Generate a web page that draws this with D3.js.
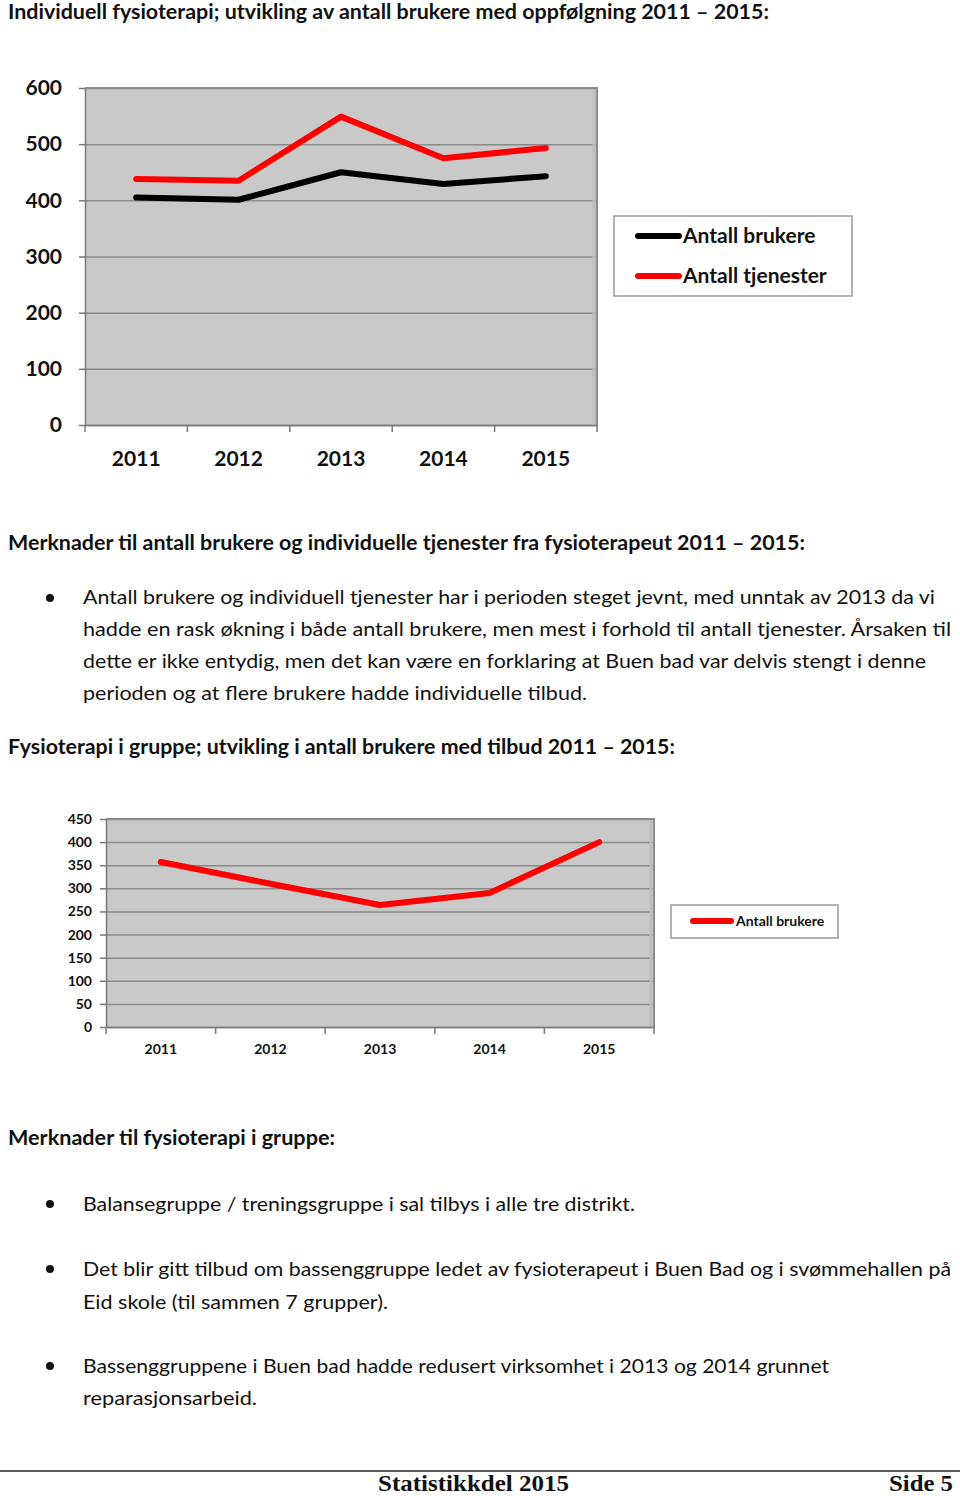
<!DOCTYPE html>
<html>
<head>
<meta charset="utf-8">
<script src="https://cdn.jsdelivr.net/npm/d3@7"></script>
<style>
	html, body { margin:0; padding:0; background:#fff; }
	svg text { font-family: Lato, "Open Sans", sans-serif; fill:#111; }
	.bold { font-weight:bold; }
	.serif { font-family: "Liberation Serif", serif; }
</style>
</head>
<body>
<svg id="page" width="960" height="1496"></svg>
<script>
// data
var years = ["2011", "2012", "2013", "2014", "2015"];
var brukere = [405, 401, 450, 429, 443];
var tjenester = [438, 435, 549, 475, 493];
var gruppeBrukere = [357, 310, 264, 290, 400];
var ticks1 = [0, 100, 200, 300, 400, 500, 600];
var ticks2 = [0, 50, 100, 150, 200, 250, 300, 350, 400, 450];
var legend1 = ["Antall brukere", "Antall tjenester"];
var legend2 = ["Antall brukere"];

// page texts: [text, x, baseline y, width, class]
var texts = [
	["Individuell fysioterapi; utvikling av antall brukere med oppfølgning 2011 – 2015:", 8, 19, 761, "bold"],
	["Merknader til antall brukere og individuelle tjenester fra fysioterapeut 2011 – 2015:", 8, 550, 797, "bold"],
	["Antall brukere og individuell tjenester har i perioden steget jevnt, med unntak av 2013 da vi", 83, 604, 852, ""],
	["hadde en rask økning i både antall brukere,  men mest i forhold til antall tjenester. Årsaken til", 83, 636, 868, ""],
	["dette er ikke entydig, men det kan være en forklaring at Buen bad var delvis stengt i denne", 83, 668, 843, ""],
	["perioden og at flere brukere hadde individuelle tilbud.", 83, 700, 504, ""],
	["Fysioterapi i gruppe; utvikling i antall brukere med tilbud 2011 – 2015:", 8, 754, 667, "bold"],
	["Merknader til fysioterapi i gruppe:", 8, 1145, 327, "bold"],
	["Balansegruppe / treningsgruppe i sal tilbys i alle tre distrikt.", 83, 1211, 552, ""],
	["Det blir gitt tilbud om bassenggruppe ledet av fysioterapeut i Buen Bad og i svømmehallen på", 83, 1276, 868, ""],
	["Eid skole (til sammen 7 grupper).", 83, 1309, 305, ""],
	["Bassenggruppene i Buen bad hadde redusert virksomhet i 2013 og 2014 grunnet", 83, 1373, 746, ""],
	["reparasjonsarbeid.", 83, 1405, 174, ""]
];
var bullets = [598, 1204, 1269, 1366];

var svg = d3.select("#page");

svg.selectAll("text.para")
	.data(texts)
	.enter()
	.append("text")
	.attr("class", function(d){ return "para " + d[4]; })
	.attr("x", function(d){ return d[1]; })
	.attr("y", function(d){ return d[2]; })
	.attr("textLength", function(d){ return d[3]; })
	.attr("lengthAdjust", "spacingAndGlyphs")
	.style("font-size", "20px")
	.text(function(d){ return d[0]; });

svg.selectAll("circle.bullet")
	.data(bullets)
	.enter()
	.append("circle")
	.attr("class", "bullet")
	.attr("cx", 50)
	.attr("cy", function(d){ return d; })
	.attr("r", 4)
	.attr("fill", "#111");

// draw a line chart in excel style
function lineChart(opts){
	var g = svg.append("g");
	var x = d3.scaleBand().domain(years).range([opts.left, opts.right]);
	var y = d3.scaleLinear().domain([0, opts.max]).range([opts.bottom, opts.top]);

	g.append("rect")
		.attr("x", opts.left).attr("y", opts.top)
		.attr("width", opts.right - opts.left)
		.attr("height", opts.bottom - opts.top)
		.attr("fill", "#c9c9c9");

	// gridlines
	var grid = g.append("g")
		.attr("transform", "translate(" + opts.left + ",0)")
		.call(d3.axisLeft(y).tickValues(opts.ticks).tickSize(-(opts.right - opts.left)).tickFormat(""));
	grid.select(".domain").remove();
	grid.selectAll("line").attr("stroke", "#8a8a8a").attr("stroke-width", 1.5);

	// border top/right
	g.append("path")
		.attr("d", "M" + opts.left + "," + opts.top + "H" + opts.right + "V" + opts.bottom)
		.attr("fill", "none").attr("stroke", "#8c8c8c").attr("stroke-width", 2);
	g.append("line")
		.attr("x1", opts.right - 3).attr("x2", opts.right - 3)
		.attr("y1", opts.top + 2).attr("y2", opts.bottom)
		.attr("stroke", "#bdbdbd").attr("stroke-width", 3);

	// y axis
	var ya = g.append("g")
		.attr("transform", "translate(" + opts.left + ",0)")
		.call(d3.axisLeft(y).tickValues(opts.ticks).tickSize(6).tickPadding(opts.ypad).tickSizeOuter(0));
	ya.selectAll("line, path").attr("stroke", "#777").attr("stroke-width", 1.5);
	ya.selectAll("text")
		.attr("class", "bold")
		.style("font-size", opts.font + "px")
		.style("font-family", "Lato, sans-serif")
		.attr("fill", "#111");

	// x axis, ticks on category boundaries
	var xa = g.append("g")
		.attr("transform", "translate(0," + opts.bottom + ")")
		.call(d3.axisBottom(x).tickSize(0).tickPadding(opts.xpad));
	xa.select(".domain").attr("stroke", "#777").attr("stroke-width", 1.5);
	xa.selectAll("text")
		.attr("class", "bold")
		.style("font-size", opts.font + "px")
		.style("font-family", "Lato, sans-serif")
		.attr("fill", "#111");
	var bounds = years.map(function(d){ return x(d); }).concat([opts.right]);
	xa.selectAll("line.bound")
		.data(bounds)
		.enter()
		.append("line")
		.attr("class", "bound")
		.attr("x1", function(d){ return d; }).attr("x2", function(d){ return d; })
		.attr("y1", 0).attr("y2", 7)
		.attr("stroke", "#777").attr("stroke-width", 1.5);

	var line = d3.line()
		.x(function(d, i){ return x(years[i]) + x.bandwidth() / 2; })
		.y(function(d){ return y(d); });

	opts.series.forEach(function(s){
		g.append("path")
			.datum(s.values)
			.attr("d", line)
			.attr("fill", "none")
			.attr("stroke", s.color)
			.attr("stroke-width", opts.lw)
			.attr("stroke-linecap", "round")
			.attr("stroke-linejoin", "round");
	});

	// legend
	var L = opts.legend;
	g.append("rect")
		.attr("x", L.x).attr("y", L.y)
		.attr("width", L.w).attr("height", L.h)
		.attr("fill", "#fff").attr("stroke", "#9a9a9a").attr("stroke-width", 1.5);
	var items = g.selectAll("g.item")
		.data(opts.series)
		.enter()
		.append("g")
		.attr("class", "item")
		.attr("transform", function(d, i){ return "translate(0," + (L.y0 + i * L.dy) + ")"; });
	items.append("line")
		.attr("x1", L.lx1).attr("x2", L.lx2)
		.attr("stroke", function(d){ return d.color; })
		.attr("stroke-width", opts.lw)
		.attr("stroke-linecap", "round");
	items.append("text")
		.attr("class", "bold")
		.attr("x", L.tx)
		.attr("dy", "0.35em")
		.style("font-size", L.font + "px")
		.text(function(d){ return d.name; });
}

lineChart({
	left: 85, right: 597, top: 88, bottom: 425, max: 600,
	ticks: ticks1, ypad: 17, xpad: 26, font: 21, lw: 6,
	series: [
		{name: legend1[0], values: brukere, color: "#000"},
		{name: legend1[1], values: tjenester, color: "#f00"}
	],
	legend: {x: 614, y: 216, w: 238, h: 80, y0: 236, dy: 40, lx1: 638, lx2: 679, tx: 683, font: 21}
});

lineChart({
	left: 106, right: 654, top: 819, bottom: 1027, max: 450,
	ticks: ticks2, ypad: 8, xpad: 17, font: 14, lw: 6,
	series: [
		{name: legend2[0], values: gruppeBrukere, color: "#f00"}
	],
	legend: {x: 671, y: 905, w: 167, h: 33, y0: 921, dy: 0, lx1: 693, lx2: 731, tx: 736, font: 14}
});

// footer
svg.append("line")
	.attr("x1", 0).attr("x2", 960)
	.attr("y1", 1471).attr("y2", 1471)
	.attr("stroke", "#222").attr("stroke-width", 1.5);
svg.selectAll("text.foot")
	.data([["Statistikkdel 2015", 378, 191], ["Side 5", 889, 64]])
	.enter()
	.append("text")
	.attr("class", "foot bold serif")
	.attr("x", function(d){ return d[1]; })
	.attr("y", 1491)
	.attr("textLength", function(d){ return d[2]; })
	.attr("lengthAdjust", "spacingAndGlyphs")
	.style("font-size", "23px")
	.text(function(d){ return d[0]; });
</script>
</body>
</html>
